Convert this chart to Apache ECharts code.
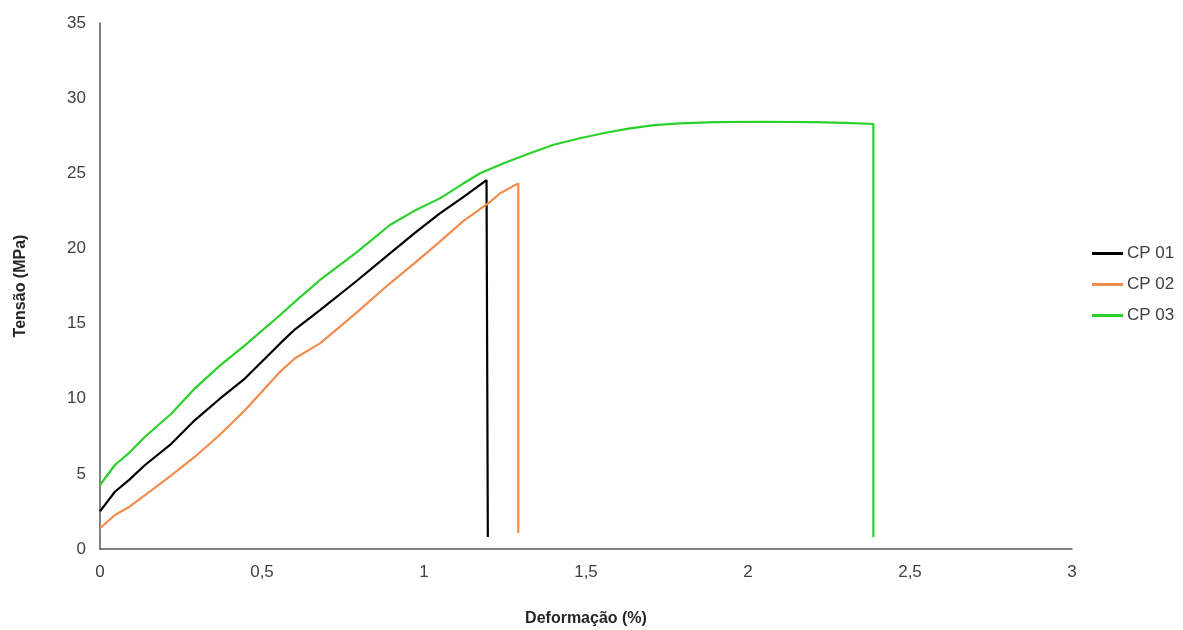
<!DOCTYPE html>
<html>
<head>
<meta charset="utf-8">
<script src="https://cdn.jsdelivr.net/npm/echarts@6/dist/echarts.min.js"></script>
<style>html,body{margin:0;padding:0;background:#fff}#c{width:1183px;height:630px}</style>
</head>
<body>
<div id="c"></div>
<script>
const seriesNames = ['CP 01', 'CP 02', 'CP 03'];
const xTicks = [0, 0.5, 1, 1.5, 2, 2.5, 3];
const yTicks = [0, 5, 10, 15, 20, 25, 30, 35];
const cp01 = [[0,2.5],[0.046,3.81],[0.09,4.6],[0.139,5.59],[0.22,7.0],[0.293,8.58],[0.37,10.0],[0.448,11.36],[0.556,13.68],[0.602,14.62],[0.679,15.9],[0.79,17.8],[0.895,19.67],[0.97,21.0],[1.049,22.33],[1.12,23.4],[1.193,24.55],[1.197,0.8]];
const cp02 = [[0,1.38],[0.046,2.26],[0.09,2.8],[0.139,3.59],[0.22,4.9],[0.293,6.14],[0.37,7.6],[0.448,9.25],[0.556,11.8],[0.602,12.69],[0.679,13.68],[0.79,15.7],[0.895,17.68],[0.97,19.0],[1.049,20.45],[1.12,21.8],[1.204,23.1],[1.235,23.67],[1.291,24.33],[1.291,1.06]];
const cp03 = [[0,4.26],[0.046,5.59],[0.09,6.4],[0.139,7.47],[0.22,9.0],[0.293,10.69],[0.37,12.2],[0.448,13.57],[0.556,15.57],[0.602,16.46],[0.679,17.9],[0.79,19.7],[0.895,21.56],[0.97,22.5],[1.049,23.33],[1.12,24.3],[1.173,25.0],[1.25,25.7],[1.327,26.33],[1.40,26.9],[1.481,27.33],[1.56,27.7],[1.636,27.99],[1.71,28.2],[1.79,28.32],[1.9,28.4],[2.037,28.43],[2.2,28.4],[2.3,28.35],[2.387,28.28],[2.387,0.8]];
const colors = ['#000000', '#F28C4F', '#2BD12B'];

const chart = echarts.init(document.getElementById('c'), null, {renderer: 'canvas'});
const fmt = v => String(v).replace('.', ',');
chart.setOption({
  animation: false,
  backgroundColor: '#ffffff',
  textStyle: {fontFamily: 'Liberation Sans, Arial, sans-serif'},
  grid: {left: 100, right: 111, top: 23, bottom: 81, containLabel: false, outerBoundsMode: 'none'},
  legend: {
    orient: 'vertical', left: 1087, top: 240,
    icon: 'rect', itemWidth: 31, itemHeight: 3, itemGap: 14,
    data: seriesNames,
    textStyle: {fontSize: 17, color: '#404040', fontFamily: 'Liberation Sans, Arial, sans-serif', padding: [0,0,0,-1]}
  },
  xAxis: {
    type: 'value', min: xTicks[0], max: xTicks[xTicks.length-1], interval: 0.5,
    name: 'Deformação (%)', nameLocation: 'middle', nameGap: 62,
    nameTextStyle: {fontSize: 16, fontWeight: 'bold', color: '#262626'},
    axisLine: {show: true, lineStyle: {color: '#595959', width: 1.5}},
    axisTick: {show: false}, splitLine: {show: false},
    axisLabel: {fontSize: 17, color: '#404040', margin: 15, formatter: fmt}
  },
  yAxis: {
    type: 'value', min: yTicks[0], max: yTicks[yTicks.length-1], interval: 5,
    name: 'Tensão (MPa)', nameLocation: 'middle', nameGap: 71, nameRotate: 90,
    nameTextStyle: {fontSize: 16, fontWeight: 'bold', color: '#262626'},
    axisLine: {show: true, lineStyle: {color: '#595959', width: 1.5}},
    axisTick: {show: false}, splitLine: {show: false},
    axisLabel: {fontSize: 17, color: '#404040', margin: 14}
  },
  series: [cp01, cp02, cp03].map((d, i) => ({
    name: seriesNames[i], type: 'line', data: d, symbol: 'none',
    lineStyle: {width: 2.2, color: colors[i]}, itemStyle: {color: colors[i]}
  }))
});
</script>
</body>
</html>
